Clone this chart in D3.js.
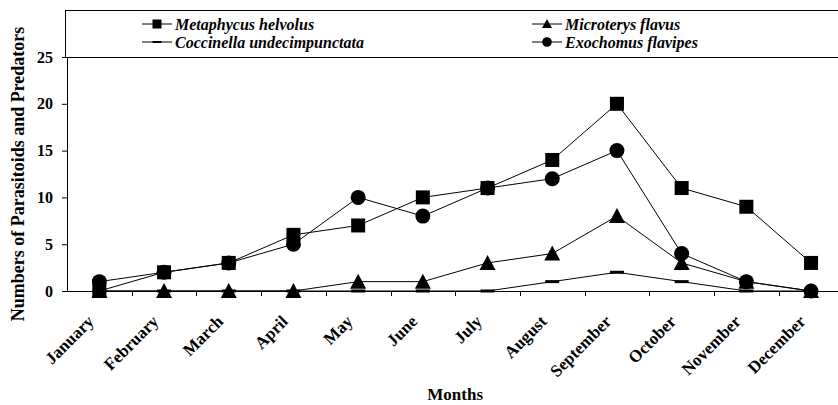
<!DOCTYPE html>
<html>
<head>
<meta charset="utf-8">
<script src="https://cdn.jsdelivr.net/npm/d3@7"></script>
<style>
  html, body { margin: 0; padding: 0; background: #fff; }
  svg { display: block; }
  text { font-family: "Liberation Serif", "Times New Roman", serif; fill: #000; }
</style>
</head>
<body>
<svg id="chart" width="838" height="405"></svg>
<script>
// Monthly counts of parasitoids and predators
const months = ["January", "February", "March", "April", "May", "June", "July",
                "August", "September", "October", "November", "December"];
const metaphycus = [0, 2, 3, 6, 7, 10, 11, 14, 20, 11, 9, 3];
const microterys = [0, 0, 0, 0, 1, 1, 3, 4, 8, 3, 1, 0];
const coccinella = [0, 0, 0, 0, 0, 0, 0, 1, 2, 1, 0, 0];
const exochomus  = [1, 2, 3, 5, 10, 8, 11, 12, 15, 4, 1, 0];
const yTicks = [0, 5, 10, 15, 20, 25];

const series = [
  { name: "Metaphycus helvolus",        values: metaphycus, marker: "square" },
  { name: "Microterys flavus",          values: microterys, marker: "triangle" },
  { name: "Coccinella undecimpunctata", values: coccinella, marker: "dash" },
  { name: "Exochomus flavipes",         values: exochomus,  marker: "circle" }
];
// drawing order: dashes and triangles underneath, squares and circles on top
const drawOrder = [2, 1, 0, 3];

const svg = d3.select("#chart");
const plotLeft = 67, plotBottom = 291, plotTop = 57, step = 64.7;
const plotRight = plotLeft + step * months.length;

const x = d3.scaleBand().domain(months).range([plotLeft, plotRight]).padding(0);
const y = d3.scaleLinear().domain([0, 25]).range([plotBottom, plotTop]);
const cx = m => x(m) + x.bandwidth() / 2;

// legend frame (sits on top of the plot area)
svg.append("rect")
  .attr("x", 65.5).attr("y", 10.5)
  .attr("width", 838 - 65.5 + 5).attr("height", plotTop - 10)
  .attr("fill", "none").attr("stroke", "#000").attr("stroke-width", 1);

// y axis
const yAxis = d3.axisLeft(y).tickValues(yTicks).tickSize(5).tickPadding(9);
const gy = svg.append("g").attr("transform", `translate(${plotLeft},0)`).call(yAxis);
gy.select(".domain").attr("stroke", "#000");
gy.selectAll(".tick line").attr("stroke", "#000");
gy.selectAll(".tick text")
  .attr("font-family", "Liberation Serif, serif")
  .attr("font-weight", "bold").attr("font-size", 16);

// x axis: baseline, tick marks at category boundaries, rotated labels
const gx = svg.append("g");
gx.append("line")
  .attr("x1", plotLeft).attr("x2", 838)
  .attr("y1", y(0) + 0.5).attr("y2", y(0) + 0.5)
  .attr("stroke", "#000");
gx.selectAll("line.tick").data(months.slice(1)).join("line")
  .attr("class", "tick")
  .attr("x1", d => Math.round(x(d)) + 0.5).attr("x2", d => Math.round(x(d)) + 0.5)
  .attr("y1", y(0)).attr("y2", y(0) + 5)
  .attr("stroke", "#000");
gx.selectAll("text").data(months).join("text")
  .attr("transform", d => `translate(${cx(d) - 4.5},${plotBottom + 31.5}) rotate(-45)`)
  .attr("text-anchor", "end")
  .attr("font-weight", "bold").attr("font-size", 17)
  .text(d => d);

// axis titles, centred on the plot area
svg.append("text")
  .attr("transform", `translate(24,${(plotTop + plotBottom) / 2}) rotate(-90)`)
  .attr("text-anchor", "middle")
  .attr("font-weight", "bold").attr("font-size", 18)
  .text("Numbers of Parasitoids and Predators");
svg.append("text")
  .attr("x", (plotLeft + plotRight) / 2).attr("y", 400)
  .attr("text-anchor", "middle")
  .attr("font-weight", "bold").attr("font-size", 17)
  .text("Months");

// marker shapes
function drawMarker(g, type, px, py) {
  if (type === "square") {
    g.append("rect").attr("x", px - 7).attr("y", py - 7).attr("width", 14).attr("height", 14).attr("fill", "#000");
  } else if (type === "circle") {
    g.append("circle").attr("cx", px).attr("cy", py).attr("r", 7.5).attr("fill", "#000");
  } else if (type === "triangle") {
    g.append("path").attr("d", `M${px},${py - 8}L${px + 8},${py + 7}L${px - 8},${py + 7}Z`).attr("fill", "#000");
  } else if (type === "dash") {
    g.append("rect").attr("x", px - 7).attr("y", py - 1.5).attr("width", 14).attr("height", 3).attr("fill", "#000");
  }
}

const line = d3.line().x((d, i) => cx(months[i])).y(d => y(d));
const plot = svg.append("g");
drawOrder.forEach(k => {
  const s = series[k];
  const g = plot.append("g");
  g.append("path").attr("d", line(s.values))
    .attr("fill", "none").attr("stroke", "#000").attr("stroke-width", 1);
  s.values.forEach((v, i) => drawMarker(g, s.marker, cx(months[i]), y(v)));
});

// legend entries
const legendPos = [
  { x: 142, y: 24 }, { x: 532, y: 24 },
  { x: 142, y: 42 }, { x: 532, y: 42 }
];
series.forEach((s, i) => {
  const p = legendPos[i];
  const g = svg.append("g");
  g.append("line").attr("x1", p.x).attr("x2", p.x + 30).attr("y1", p.y).attr("y2", p.y)
    .attr("stroke", "#000");
  const sm = svg.append("g");
  if (s.marker === "square") sm.append("rect").attr("x", p.x + 10.5).attr("y", p.y - 4.5).attr("width", 9).attr("height", 9);
  if (s.marker === "circle") sm.append("circle").attr("cx", p.x + 15).attr("cy", p.y).attr("r", 4.8);
  if (s.marker === "triangle") sm.append("path").attr("d", `M${p.x + 15},${p.y - 5}L${p.x + 20},${p.y + 4}L${p.x + 10},${p.y + 4}Z`);
  if (s.marker === "dash") sm.append("rect").attr("x", p.x + 10.5).attr("y", p.y - 1).attr("width", 9).attr("height", 2);
  sm.selectAll("*").attr("fill", "#000");
  g.append("text").attr("x", p.x + 33).attr("y", p.y).attr("dy", "0.35em")
    .attr("font-weight", "bold").attr("font-style", "italic").attr("font-size", 16)
    .text(s.name);
});
</script>
</body>
</html>
